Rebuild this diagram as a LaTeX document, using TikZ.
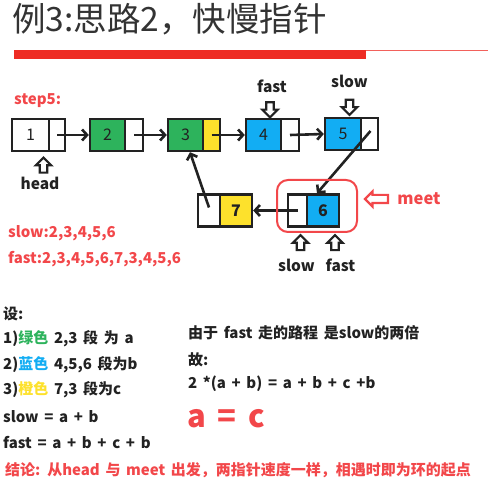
\documentclass[tikz,border=0pt]{standalone}
\usepackage{fontspec}
\setmainfont{Noto Sans CJK SC}[WordSpace=1.65]
\usetikzlibrary{arrows.meta,shapes.arrows}
\definecolor{titlegray}{HTML}{333333}
\definecolor{barred}{HTML}{EE2C24}
\definecolor{txtred}{HTML}{F2474A}
\definecolor{cgreen}{HTML}{2DB35C}
\definecolor{cblue}{HTML}{12ADF3}
\definecolor{cyellow}{HTML}{FDE12C}
\definecolor{ink}{HTML}{222222}

\begin{document}
\begin{tikzpicture}[x=1pt,y=-1pt,
  cell/.style={draw=ink, line width=2.4pt, minimum height=32pt, inner sep=0pt,
    font=\fontsize{16}{16}\selectfont, text=ink},
  link/.style={draw=ink, line width=2.6pt, -{Straight Barb[length=5pt,width=11pt]}},
  marker/.style={single arrow, draw=ink, line width=2.2pt, fill=white, inner sep=2.6pt,
    minimum height=15pt, single arrow head extend=4pt, single arrow head indent=0pt},
  lbl/.style={inner sep=0pt, font=\bfseries\fontsize{15.5}{15.5}\selectfont, text=ink},
  rlbl/.style={inner sep=0pt, font=\bfseries\fontsize{15}{15}\selectfont, text=txtred},
  line/.style={inner sep=0pt, anchor=west, font=\bfseries\fontsize{15}{15}\selectfont, text=ink},
]
\useasboundingbox (0,0) rectangle (488,486);

% title and underline
\node[anchor=west, inner sep=0pt, text=titlegray, font=\fontsize{33.5}{33.5}\selectfont] (title) at (12,19) {例3:思路2，快慢指针};
\fill[barred] (14,50) rectangle (366,59);
\draw[barred!75, line width=1pt] (366,51) -- (488,51);

\node[rlbl, anchor=west] (step) at (14,101) {step5:};

% list cells: data part and pointer part
\node[cell, minimum width=37pt] (n1d) at (30.5,135) {1};
\node[cell, minimum width=16pt] (n1p) at (57,135) {};
\node[cell, minimum width=35pt, fill=cgreen] (n2d) at (107.5,135) {2};
\node[cell, minimum width=18pt] (n2p) at (134,135) {};
\node[cell, minimum width=35pt, fill=cgreen] (n3d) at (185.5,135) {3};
\node[cell, minimum width=17pt, fill=cyellow] (n3p) at (211.5,135) {};
\node[cell, minimum width=35pt, fill=cblue] (n4d) at (263.5,135) {4};
\node[cell, minimum width=18pt] (n4p) at (290,135) {};
\node[cell, minimum width=36pt, fill=cblue] (n5d) at (343,134) {5};
\node[cell, minimum width=17pt] (n5p) at (369.5,134) {};
\node[cell, minimum width=22pt] (n7p) at (209,210.5) {};
\node[cell, minimum width=32pt, fill=cyellow, font=\bfseries\fontsize{16}{16}\selectfont] (n7d) at (236,210.5) {7};
\node[cell, minimum width=19pt] (n6p) at (297.5,210.5) {};
\node[cell, minimum width=32pt, fill=cblue, font=\bfseries\fontsize{16}{16}\selectfont] (n6d) at (323,210.5) {6};

% links between cells
\draw[link] (n1p.center) -- (n2d.west);
\draw[link] (n2p.center) -- (n3d.west);
\draw[link] (n3p.center) -- (n4d.west);
\draw[link] (n4p.center) -- (n5d.west);
\draw[link] ([xshift=1pt,yshift=3pt]n5p.center) -- ([xshift=-6pt]n6d.north);
\draw[link] (n6p.center) -- (n7d.east);
\draw[link] ([yshift=3pt]n7p.center) -- ([xshift=4.5pt]n3d.south);

% meeting point
\node[draw=txtred, line width=2pt, rounded corners=11pt, minimum width=80pt, minimum height=52pt] (meetbox) at (317,206) {};
\node[marker, draw=txtred, minimum height=23pt, inner sep=3pt, single arrow head extend=3.5pt, shape border rotate=180] (meetarrow) at (378.5,199) {};
\node[rlbl, font=\bfseries\fontsize{16.5}{16.5}\selectfont] (meet) at (419,199) {meet};

% pointer markers
\node[marker, shape border rotate=90] (headarrow) at (43.5,167) {};
\node[lbl] (head) at (40,183) {head};
\node[marker, shape border rotate=270] (fastarrow) at (270,108) {};
\node[lbl] (fast) at (272,86) {fast};
\node[marker, shape border rotate=270] (slowarrow) at (349.5,105.5) {};
\node[lbl] (slow) at (349.5,81) {slow};
\node[marker, shape border rotate=90] (slowarrow2) at (300.5,244.5) {};
\node[lbl] (slow2) at (296.5,265) {slow};
\node[marker, shape border rotate=90] (fastarrow2) at (335,244.5) {};
\node[lbl] (fast2) at (340.5,265) {fast};

% traversal orders
\node[rlbl, anchor=west] (slowseq) at (8,233) {slow:2,3,4,5,6};
\node[rlbl, anchor=west] (fastseq) at (8,259) {fast:2,3,4,5,6,7,3,4,5,6};

% definitions
\node[line] (l0) at (3,314) {设:};
\node[line] (l1) at (3,339) {1)\textcolor{cgreen}{绿色} 2,3 段 为 a};
\node[line] (l2) at (3,365) {2)\textcolor{cblue}{蓝色} 4,5,6 段为b};
\node[line] (l3) at (3,390) {3)\textcolor{cyellow}{橙色} 7,3 段为c};
\node[line] (l4) at (3,417) {slow = a + b};
\node[line] (l5) at (3,443) {fast = a + b + c + b};

% reasoning
\node[line] (r1) at (188,333) {由于 fast 走的路程 是slow的两倍};
\node[line] (r2) at (188,360) {故:};
\node[line] (r3) at (188,384) {2 *(a + b) = a + b + c +b};
\node[line, text=txtred, font=\bfseries\fontsize{31}{31}\selectfont] (r4) at (187,419) {a\hspace{12pt}=\hspace{12pt}c};

% conclusion
\node[line, text=txtred] (concl) at (5,470) {结论: 从head 与 meet 出发，两指针速度一样，相遇时即为环的起点};
\end{tikzpicture}
\end{document}
